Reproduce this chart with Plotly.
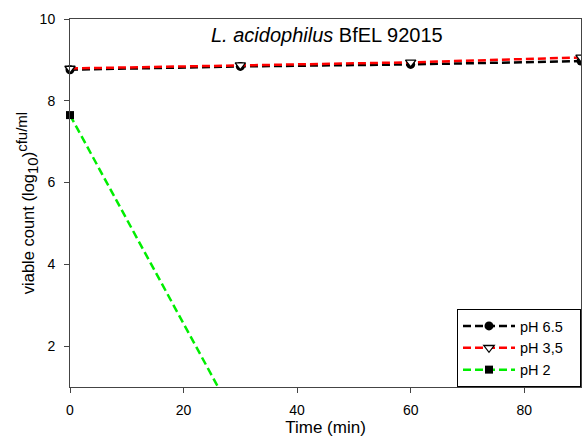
import plotly.graph_objects as go

time_min = [0, 30, 60, 90]
ph65 = [8.76, 8.84, 8.89, 8.97]
ph35 = [8.79, 8.87, 8.94, 9.06]
time_ph2 = [0, 30, 60, 90]
ph2 = [7.65, 0.0, 0.0, 0.0]

series_names = ["pH 6.5", "pH 3,5", "pH 2"]
pad = "\u00a0\u00a0\u00a0"

fig = go.Figure()
dash = "8px,4px"
fig.add_trace(go.Scatter(x=time_min, y=ph65, name=series_names[0] + pad, mode="lines+markers",
                         cliponaxis=False,
                         line=dict(color="black", width=2.5, dash=dash),
                         marker=dict(symbol="circle", size=9, color="black")))
fig.add_trace(go.Scatter(x=time_min, y=ph35, name=series_names[1] + pad, mode="lines+markers",
                         cliponaxis=False,
                         line=dict(color="#ff0000", width=2.5, dash=dash),
                         marker=dict(symbol="triangle-down", size=9, color="white",
                                     line=dict(color="black", width=1.3))))
fig.add_trace(go.Scatter(x=time_ph2, y=ph2, name=series_names[2] + pad, mode="lines+markers",
                         cliponaxis=False,
                         line=dict(color="#00ee00", width=2.5, dash=dash),
                         marker=dict(symbol="square", size=8,
                                     color=["black" if v >= 1 else "rgba(0,0,0,0)" for v in ph2])))

fig.add_annotation(x=0.503, y=0.992, xref="paper", yref="paper", xanchor="center", yanchor="top",
                   text="<i>L. acidophilus</i> BfEL 92015", showarrow=False,
                   font=dict(size=20, color="black"))

axis_common = dict(showline=True, linecolor="#444", linewidth=1, mirror=True,
                   ticks="outside", ticklen=5, tickcolor="#444", showgrid=False, zeroline=False,
                   tickfont=dict(size=14, color="black"), automargin=False)
fig.update_xaxes(range=[0, 90], tickvals=[0, 20, 40, 60, 80], ticklabelstandoff=5,
                 title=dict(text="Time (min)", font=dict(size=17, color="black"), standoff=4),
                 **axis_common)
fig.update_yaxes(range=[1, 10], tickvals=[2, 4, 6, 8, 10], ticklabelstandoff=6,
                 title=dict(text="viable count (log<sub><span style='font-size:15px'>10</span></sub>)"
                                 "<sup><span style='font-size:15px'>cfu/ml</span></sup>",
                            font=dict(size=16.5, color="black"), standoff=0),
                 **axis_common)

fig.update_layout(width=582, height=441, margin=dict(l=70, r=1, t=19, b=54, autoexpand=False),
                  plot_bgcolor="white", paper_bgcolor="white",
                  font=dict(family="Liberation Sans, Arial, sans-serif", color="black"),
                  legend=dict(x=1, y=0, xanchor="right", yanchor="bottom",
                              bordercolor="black", borderwidth=1, bgcolor="white",
                              font=dict(size=14.5), tracegroupgap=0, itemwidth=52))

fig.write_html("out.html", config={"displayModeBar": False},
               post_script="document.body.style.margin='0';")
